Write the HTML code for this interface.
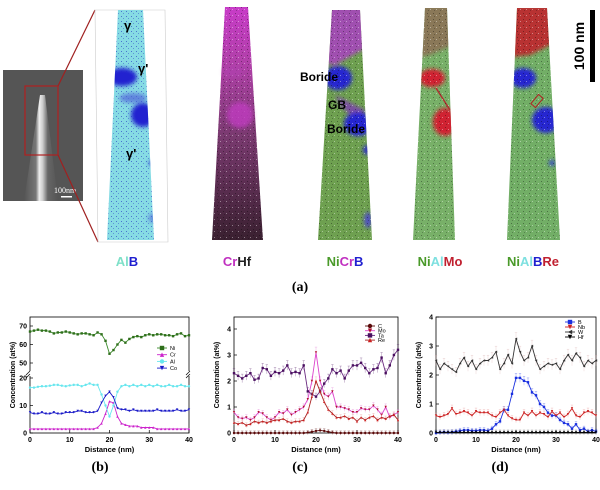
<!DOCTYPE html>
<html><head><meta charset="utf-8"><style>
html,body{margin:0;padding:0;background:#fff}
svg{display:block;font-family:"Liberation Sans",sans-serif}
</style></head><body>
<svg id="fig" width="600" height="490" viewBox="0 0 600 490" xmlns="http://www.w3.org/2000/svg">
<defs>
<pattern id="speck" width="6" height="6" patternUnits="userSpaceOnUse">
<rect x="1" y="1" width="1" height="1" fill="#000" opacity="0.35"/><rect x="4" y="3" width="1" height="1" fill="#fff" opacity="0.4"/><rect x="2" y="4" width="1" height="1" fill="#000" opacity="0.25"/>
</pattern>
<pattern id="speckB" width="5" height="5" patternUnits="userSpaceOnUse">
<rect x="1" y="1" width="1" height="1" fill="#2030c0" opacity="0.6"/><rect x="3" y="3" width="1" height="1" fill="#2030c0" opacity="0.4"/>
</pattern>
<filter id="soft" x="-30%" y="-30%" width="160%" height="160%"><feGaussianBlur stdDeviation="2.2"/></filter>
<linearGradient id="crhf" x1="0" y1="0" x2="0" y2="1">
<stop offset="0" stop-color="#c83cc8"/><stop offset="0.25" stop-color="#b040a8"/><stop offset="0.55" stop-color="#7a3a70"/><stop offset="1" stop-color="#3a2030"/></linearGradient>
<linearGradient id="sem" x1="0" y1="0" x2="1" y2="0">
<stop offset="0" stop-color="#555"/><stop offset="0.35" stop-color="#777"/><stop offset="0.45" stop-color="#eee"/><stop offset="0.55" stop-color="#ccc"/><stop offset="0.7" stop-color="#666"/><stop offset="1" stop-color="#555"/></linearGradient>
<clipPath id="c1"><polygon points="118,10 143,10 154,240 107,240"/></clipPath>
<clipPath id="c3"><polygon points="332,10 360,10 372,240 318,240"/></clipPath>
<clipPath id="c4"><polygon points="425,8 447,8 455,240 413,240"/></clipPath>
<clipPath id="c5"><polygon points="517,8 547,8 560,240 507,240"/></clipPath>
</defs>

<g>
<rect x="3" y="70" width="80" height="131" fill="#555"/>
<polygon points="40,95 45,95 58,201 24,201" fill="url(#sem)"/>
<rect x="25" y="86" width="33" height="69" fill="none" stroke="#b02020" stroke-width="1.2"/>
<text x="54" y="193" font-family="Liberation Serif" font-size="8" fill="#fff">100nm</text>
<rect x="61" y="196" width="11" height="1.5" fill="#fff"/>
<line x1="58" y1="86" x2="95" y2="10" stroke="#a02020" stroke-width="1.2"/>
<line x1="58" y1="155" x2="98" y2="242" stroke="#a02020" stroke-width="1.2"/>
</g>

<g>
<polygon points="95,10 165,10 168,242 98,242" fill="none" stroke="#ccc" stroke-width="0.6"/>
<g clip-path="url(#c1)">
<rect x="100" y="5" width="60" height="240" fill="#86dbe4"/>
<rect x="100" y="5" width="60" height="240" fill="url(#speckB)"/>
<g filter="url(#soft)">
<ellipse cx="122" cy="77" rx="15" ry="9" fill="#2020d0"/>
<ellipse cx="143" cy="115" rx="12" ry="12" fill="#2020d0"/>
<ellipse cx="133" cy="98" rx="14" ry="5" fill="#5060d8" opacity="0.7"/>
<ellipse cx="152" cy="163" rx="3" ry="3" fill="#3040d0"/>
<ellipse cx="154" cy="218" rx="6" ry="5" fill="#5060d8" opacity="0.6"/>
</g>
</g>
<text x="124" y="30" font-size="13" font-weight="bold">γ</text>
<text x="138" y="73" font-size="13" font-weight="bold">γ'</text>
<text x="126" y="158" font-size="13" font-weight="bold">γ'</text>
</g>

<g>
<polygon points="225,7 248,7 263,240 212,240" fill="url(#crhf)"/>
<polygon points="225,7 248,7 263,240 212,240" fill="url(#speck)"/>
<g filter="url(#soft)">
<ellipse cx="240" cy="115" rx="13" ry="13" fill="#c03cc0" opacity="0.8"/>
<ellipse cx="233" cy="72" rx="10" ry="6" fill="#b040b0" opacity="0.6"/>
</g>
</g>

<g>
<g clip-path="url(#c3)">
<rect x="310" y="5" width="70" height="240" fill="#6ea050"/>
<g filter="url(#soft)">
<polygon points="310,5 380,5 380,40 335,65 310,60" fill="#a050b0"/>
<ellipse cx="338" cy="78" rx="14" ry="12" fill="#2828d0"/>
<polygon points="335,95 365,110 360,125 340,105" fill="#7a50a0"/>
<ellipse cx="358" cy="124" rx="14" ry="12" fill="#2828d0"/>
<ellipse cx="367" cy="150" rx="4" ry="5" fill="#3030c0"/>
<ellipse cx="368" cy="220" rx="4" ry="8" fill="#5050c0"/>
</g>
<rect x="310" y="5" width="70" height="240" fill="url(#speck)"/>
</g>
<text x="300" y="81" font-size="12" font-weight="bold">Boride</text>
<text x="328" y="109" font-size="12" font-weight="bold">GB</text>
<text x="327" y="133" font-size="12" font-weight="bold">Boride</text>
</g>

<g>
<g clip-path="url(#c4)">
<rect x="405" y="5" width="60" height="240" fill="#78b068"/>
<g filter="url(#soft)">
<polygon points="405,5 465,5 465,40 430,55 405,60" fill="#8a7858"/>
<ellipse cx="432" cy="78" rx="13" ry="9" fill="#d02030"/>
<ellipse cx="445" cy="122" rx="12" ry="14" fill="#d02030"/>
</g>
<line x1="436" y1="88" x2="450" y2="110" stroke="#b03030" stroke-width="1.5"/>
<rect x="405" y="5" width="60" height="240" fill="url(#speck)"/>
</g>
</g>

<g>
<g clip-path="url(#c5)">
<rect x="500" y="5" width="70" height="240" fill="#72ae66"/>
<g filter="url(#soft)">
<polygon points="500,5 570,5 570,35 530,55 500,58" fill="#b83030"/>
<ellipse cx="523" cy="78" rx="13" ry="10" fill="#2828d0"/>
<ellipse cx="546" cy="120" rx="14" ry="13" fill="#2828d0"/>
<ellipse cx="552" cy="163" rx="3" ry="3" fill="#3040d0"/>
</g>
<rect x="500" y="5" width="70" height="240" fill="url(#speck)"/>
</g>
<rect x="534" y="95" width="6" height="12" fill="none" stroke="#b02020" stroke-width="1" transform="rotate(40 537 101)"/>
</g>

<g>
<rect x="590" y="10" width="5" height="72" fill="#000"/>
<text x="0" y="0" font-size="14" font-weight="bold" transform="translate(584,46) rotate(-90)" text-anchor="middle">100 nm</text>
</g>

<g font-size="13" font-weight="bold" text-anchor="middle">
<text x="127" y="266"><tspan fill="#7ee0c8">Al</tspan><tspan fill="#2020d0">B</tspan></text>
<text x="237" y="266"><tspan fill="#c030c0">Cr</tspan><tspan fill="#222">Hf</tspan></text>
<text x="345" y="266"><tspan fill="#4a9a2a">Ni</tspan><tspan fill="#c030c0">Cr</tspan><tspan fill="#2020d0">B</tspan></text>
<text x="440" y="266"><tspan fill="#4a9a2a">Ni</tspan><tspan fill="#7ee0e0">Al</tspan><tspan fill="#c02030">Mo</tspan></text>
<text x="533" y="266"><tspan fill="#4a9a2a">Ni</tspan><tspan fill="#7ee0e0">Al</tspan><tspan fill="#2020d0">B</tspan><tspan fill="#c02030">Re</tspan></text>
</g>
<text x="300" y="291" font-family="Liberation Serif" font-size="14" font-weight="bold" text-anchor="middle">(a)</text>
<text x="100" y="471" font-family="Liberation Serif" font-size="14" font-weight="bold" text-anchor="middle">(b)</text>
<text x="300" y="471" font-family="Liberation Serif" font-size="14" font-weight="bold" text-anchor="middle">(c)</text>
<text x="500" y="471" font-family="Liberation Serif" font-size="14" font-weight="bold" text-anchor="middle">(d)</text>
<g id="charts"></g>
</svg>
<script>
const distance = Array.from({length:41},(_,i)=>i);
const bNi = [67,67.5,68,67.5,67.5,67,66,66.5,66.5,67,66.5,66,65.5,66,66,65.5,65,66.5,65.5,62,55,57,60,62.5,61,63,64,64.5,64,65,65.5,65,65.5,65.5,65,65,64.5,65.5,66,64.5,65];
const bCr = [1.5,1.5,1.5,1.5,1.5,1.5,1.5,1.5,1.5,1.5,1.5,1.5,1.5,1.5,1.5,1.5,1.5,2,3.5,7,11.5,11,6,3.5,3,2.5,2.5,2.5,2,2,2,2,1.5,1.5,1.5,1.5,1.5,1.5,1.5,1.5,1.5];
const bAl = [16.5,16.5,16.8,17,17,17.2,17.5,17.5,17.2,17,17.3,17.5,17.5,17,17.5,18,17.5,17.5,14,10,6,10,15,17,17.5,17,17.5,17,17.5,17,17.5,17,17.5,17,17,17.5,17,17,17.5,17,17];
const bCo = [7.5,7,7,7.5,7,7,7.5,7,7,7.5,7.5,7.5,8,8,7.5,7.5,7.5,8,11,13.5,15,13,9,8.5,8.5,8,8.5,8,8,8,8,8,8.5,8,8,8,8,8.5,8,8,8.5];
const cC = [0,0,0,0,0,0,0,0,0,0,0,0,0,0,0,0,0,0,0.02,0.05,0.08,0.1,0.08,0.05,0.02,0,0,0,0,0,0,0,0,0,0,0,0,0,0,0,0];
const cMo = [0.8,0.6,0.55,0.6,0.5,0.6,0.8,0.75,0.6,0.5,0.6,0.8,0.75,0.9,0.7,0.8,0.9,1.0,1.3,2.0,3.1,2.0,1.5,1.4,1.6,1.0,1.0,0.95,0.9,0.8,0.8,0.95,0.9,0.9,1.05,0.9,0.7,1.0,0.6,0.7,0.8];
const cTa = [2.3,2.2,2.1,2.2,2.3,2.05,2.1,2.5,2.45,2.2,2.35,2.3,2.4,2.6,2.3,2.35,2.3,2.6,1.6,1.5,1.4,1.6,1.9,2.1,2.45,2.3,2.4,2.1,2.4,2.6,2.6,2.7,2.5,2.3,2.45,2.5,2.9,2.3,2.6,3.0,3.2];
const cRe = [0.4,0.35,0.4,0.3,0.35,0.45,0.4,0.45,0.4,0.45,0.5,0.5,0.55,0.45,0.4,0.45,0.45,0.5,0.8,1.4,2.0,1.6,1.2,0.9,0.75,0.6,0.6,0.65,0.55,0.6,0.45,0.6,0.5,0.6,0.65,0.5,0.6,0.55,0.65,0.7,0.5];
const dB = [0,0.02,0.03,0.02,0.03,0.05,0.08,0.1,0.1,0.08,0.08,0.1,0.1,0.08,0.15,0.3,0.4,0.8,0.8,1.35,1.9,1.9,1.8,1.75,1.4,1.3,1.0,0.9,0.7,0.6,0.6,0.45,0.35,0.3,0.15,0.3,0.1,0.15,0.05,0.1,0.05];
const dNb = [0.6,0.55,0.6,0.65,0.85,0.65,0.7,0.75,0.7,0.6,0.75,0.7,0.7,0.7,0.6,0.55,0.7,0.8,0.6,0.5,0.45,0.45,0.7,0.6,0.75,0.6,0.7,0.65,0.55,0.75,0.6,0.7,0.55,0.65,0.85,0.6,0.55,0.7,0.75,0.7,0.6];
const dW = [2.5,2.2,2.4,2.3,2.2,2.1,2.4,2.6,2.3,2.5,2.2,2.4,2.5,2.5,2.6,2.8,2.2,2.4,2.7,2.4,3.25,2.8,2.5,2.6,3.0,2.5,2.2,2.3,2.4,2.35,2.4,2.2,2.5,2.7,2.5,2.75,2.6,2.3,2.5,2.4,2.5];
const dHf = [0.02,0.02,0.02,0.02,0.02,0.02,0.02,0.02,0.02,0.02,0.02,0.02,0.02,0.02,0.02,0.02,0.02,0.02,0.02,0.02,0.02,0.02,0.02,0.02,0.02,0.02,0.02,0.02,0.02,0.02,0.02,0.02,0.02,0.02,0.02,0.02,0.02,0.02,0.02,0.02,0.02];
const xTicks = [0,10,20,30,40];
const bLowTicks = [0,10,20];
const bHighTicks = [50,60,70];
const cTicks = [0,1,2,3,4];
const dTicks = [0,1,2,3,4];

const NS='http://www.w3.org/2000/svg';
const root=document.getElementById('charts');
function mk(tag,attrs,parent){const e=document.createElementNS(NS,tag);for(const k in attrs)e.setAttribute(k,attrs[k]);(parent||root).appendChild(e);return e;}

function marker(g,shape,x,y,col,s){
  let e;
  if(shape==='sq') e=mk('rect',{x:x-s,y:y-s,width:2*s,height:2*s,fill:col},g);
  else if(shape==='ci') e=mk('circle',{cx:x,cy:y,r:s,fill:col},g);
  else if(shape==='up') e=mk('polygon',{points:`${x-s},${y+s} ${x+s},${y+s} ${x},${y-s}`,fill:col},g);
  else if(shape==='dn') e=mk('polygon',{points:`${x-s},${y-s} ${x+s},${y-s} ${x},${y+s}`,fill:col},g);
  else e=mk('polygon',{points:`${x+s},${y-s} ${x+s},${y+s} ${x-s},${y}`,fill:col},g);
  
  
}

function chart(cfg){
  const g=mk('g',{});
  
  
  const X=v=>cfg.x0+(v-0)/40*(cfg.x1-cfg.x0);
  const Y=cfg.Y;
  const ax=mk('rect',{x:cfg.x0,y:cfg.top,width:cfg.x1-cfg.x0,height:cfg.bot-cfg.top,fill:'none',stroke:'#000','stroke-width':0.8},g);
  
  
  xTicks.forEach(t=>{
    mk('line',{x1:X(t),x2:X(t),y1:cfg.bot,y2:cfg.bot-3,stroke:'#000','stroke-width':0.7},g);
    const tl=mk('text',{x:X(t),y:cfg.bot+9,'font-size':7,'font-weight':'bold','text-anchor':'middle'},g);
    tl.textContent=t;
    
    
  });
  cfg.yTicks.forEach(t=>{
    mk('line',{x1:cfg.x0,x2:cfg.x0+3,y1:Y(t),y2:Y(t),stroke:'#000','stroke-width':0.7},g);
    const tl=mk('text',{x:cfg.x0-3,y:Y(t)+2.5,'font-size':7,'font-weight':'bold','text-anchor':'end'},g);
    tl.textContent=t;
    
    
  });
  const xt=mk('text',{x:(cfg.x0+cfg.x1)/2,y:cfg.bot+19,'font-size':7.5,'font-weight':'bold','text-anchor':'middle'},g);
  xt.textContent='Distance (nm)';
  
  
  const yt=mk('text',{'font-size':7,'font-weight':'bold','text-anchor':'middle',transform:`translate(${cfg.x0-15},${(cfg.top+cfg.bot)/2}) rotate(-90)`},g);
  yt.textContent='Concentration (at%)';
  
  
  if(cfg.extra) cfg.extra(g);
  cfg.series.forEach((s,si)=>{
    const sg=mk('g',{},g);
    
    
    if(cfg.err){
      s.data.forEach((v,i)=>{
        const e=0.08+v*0.04;
        mk('line',{x1:X(distance[i]),x2:X(distance[i]),y1:Y(v-e),y2:Y(v+e),stroke:s.err||s.color,'stroke-width':0.6,opacity:0.4},sg);
        mk('line',{x1:X(distance[i])-1.2,x2:X(distance[i])+1.2,y1:Y(v+e),y2:Y(v+e),stroke:s.err||s.color,'stroke-width':0.6,opacity:0.4},sg);
      });
    }
    const pts=s.data.map((v,i)=>X(distance[i]).toFixed(1)+','+Y(v).toFixed(1)).join(' ');
    const pl=mk('polyline',{points:pts,fill:'none',stroke:s.line||s.color,'stroke-width':0.9},sg);
    
    
    s.data.forEach((v,i)=>marker(sg,s.shape,X(distance[i]),Y(v),s.color,1.2));
    const ly=cfg.legY+si*cfg.legDy;
    const lg=mk('g',{},g);
    
    
    mk('line',{x1:cfg.legX-5,x2:cfg.legX+5,y1:ly,y2:ly,stroke:s.line||s.color,'stroke-width':0.9},lg);
    marker(lg,s.shape,cfg.legX,ly,s.color,2.2);
    const lt=mk('text',{x:cfg.legX+8,y:ly+2,'font-size':5.5},lg);
    lt.textContent=s.label;
  });
}

const bY=v=> v<=20 ? 433-v*2.75 : 363-(v-50)*1.85;
chart({name:'chart-b',x0:30,x1:189,top:317,bot:433,Y:bY,yTicks:bLowTicks.concat(bHighTicks),
  legX:162,legY:348,legDy:6.7,err:false,
  extra:g=>{
    const br=mk('rect',{x:27,y:371,width:165,height:5,fill:'#fff'},g);
    
    
    mk('path',{d:'M26,375 l4,-4 M26,378 l4,-4 M186,375 l4,-4 M186,378 l4,-4',stroke:'#000','stroke-width':0.7},g);
  },
  series:[
    {label:'Ni',data:bNi,color:'#2e6e1a',line:'#3a8a2a',shape:'sq'},
    {label:'Cr',data:bCr,color:'#cc22cc',shape:'up'},
    {label:'Al',data:bAl,color:'#66e6ee',shape:'ci'},
    {label:'Co',data:bCo,color:'#1a1ac8',shape:'dn'}
  ]});
chart({name:'chart-c',x0:234,x1:398,top:317,bot:433,Y:v=>433-v*26,yTicks:cTicks,
  legX:370,legY:326,legDy:4.7,err:true,
  series:[
    {label:'C',data:cC,color:'#5a0a0a',shape:'ci'},
    {label:'Mo',data:cMo,color:'#b01030',line:'#dd44cc',err:'#dd66cc',shape:'dn'},
    {label:'Ta',data:cTa,color:'#4a1060',line:'#6a2a80',shape:'sq'},
    {label:'Re',data:cRe,color:'#cc2020',line:'#aa2222',err:'#e08080',shape:'up'}
  ]});
chart({name:'chart-d',x0:436,x1:596,top:317,bot:433,Y:v=>433-v*29,yTicks:dTicks,
  legX:570,legY:322,legDy:5,err:true,
  series:[
    {label:'B',data:dB,color:'#1a30e0',shape:'sq'},
    {label:'Nb',data:dNb,color:'#cc2020',err:'#e08080',shape:'dn'},
    {label:'W',data:dW,color:'#333',err:'#d0a0a0',shape:'lt'},
    {label:'Hf',data:dHf,color:'#000',shape:'dn'}
  ]});
</script>
</body></html>
